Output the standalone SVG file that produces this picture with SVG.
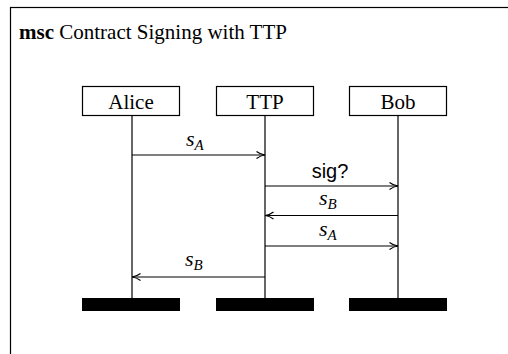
<svg xmlns="http://www.w3.org/2000/svg" width="508" height="354" viewBox="0 0 508 354">
<style>
.frame{fill:none;stroke:#000;stroke-width:1.2}
.box{fill:#fff;stroke:#000;stroke-width:1.2}
.life{stroke:#000;stroke-width:1.2}
.end{fill:#000}
.msg{stroke:#000;stroke-width:1.2;fill:none;marker-end:url(#arr)}
.t{font-family:"Liberation Serif","DejaVu Serif",serif;font-size:21px;fill:#000}
.lbl{font-family:"Liberation Serif","DejaVu Serif",serif;font-size:22px;font-style:italic;fill:#000}
.sub{font-size:15px}
.sans{font-family:"Liberation Sans",sans-serif;font-size:20px;fill:#000}
</style>
<defs>
<marker id="arr" viewBox="0 0 10 10" refX="9.5" refY="5" markerWidth="10" markerHeight="10" markerUnits="userSpaceOnUse" orient="auto">
<path d="M1,1.5 Q5,4.5 9.5,5 Q5,5.5 1,8.5" fill="none" stroke="#000" stroke-width="1.2"/>
</marker>
</defs>
<rect class="frame" x="10.5" y="7.5" width="600" height="400"/>
<text x="19" y="39" class="t"><tspan font-weight="bold">msc</tspan> Contract Signing with TTP</text>
<g id="alice">
<line class="life" x1="132" y1="116" x2="132" y2="299"/>
<rect class="box" x="82.5" y="86.5" width="97" height="29"/>
<text x="131" y="109" class="t" text-anchor="middle">Alice</text>
<rect class="end" x="82" y="298" width="98" height="13"/>
</g>
<g id="ttp">
<line class="life" x1="265" y1="116" x2="265" y2="299"/>
<rect class="box" x="216.5" y="86.5" width="97" height="29"/>
<text x="265" y="109" class="t" text-anchor="middle">TTP</text>
<rect class="end" x="216" y="298" width="98" height="13"/>
</g>
<g id="bob">
<line class="life" x1="398" y1="116" x2="398" y2="299"/>
<rect class="box" x="349.5" y="86.5" width="97" height="29"/>
<text x="398" y="109" class="t" text-anchor="middle">Bob</text>
<rect class="end" x="349" y="298" width="98" height="13"/>
</g>
<g id="connectors">
<line class="msg" x1="132" y1="155" x2="265" y2="155"/>
<text x="186" y="146" class="lbl">s<tspan class="sub" dy="4">A</tspan></text>
<line class="msg" x1="265" y1="186" x2="398" y2="186"/>
<text x="330" y="178" class="sans" text-anchor="middle">sig?</text>
<line class="msg" x1="398" y1="215.5" x2="265" y2="215.5"/>
<text x="319" y="205" class="lbl">s<tspan class="sub" dy="4">B</tspan></text>
<line class="msg" x1="265" y1="246" x2="398" y2="246"/>
<text x="319" y="236" class="lbl">s<tspan class="sub" dy="4">A</tspan></text>
<line class="msg" x1="265" y1="277" x2="132" y2="277"/>
<text x="185" y="266" class="lbl">s<tspan class="sub" dy="4">B</tspan></text>
</g>
</svg>
